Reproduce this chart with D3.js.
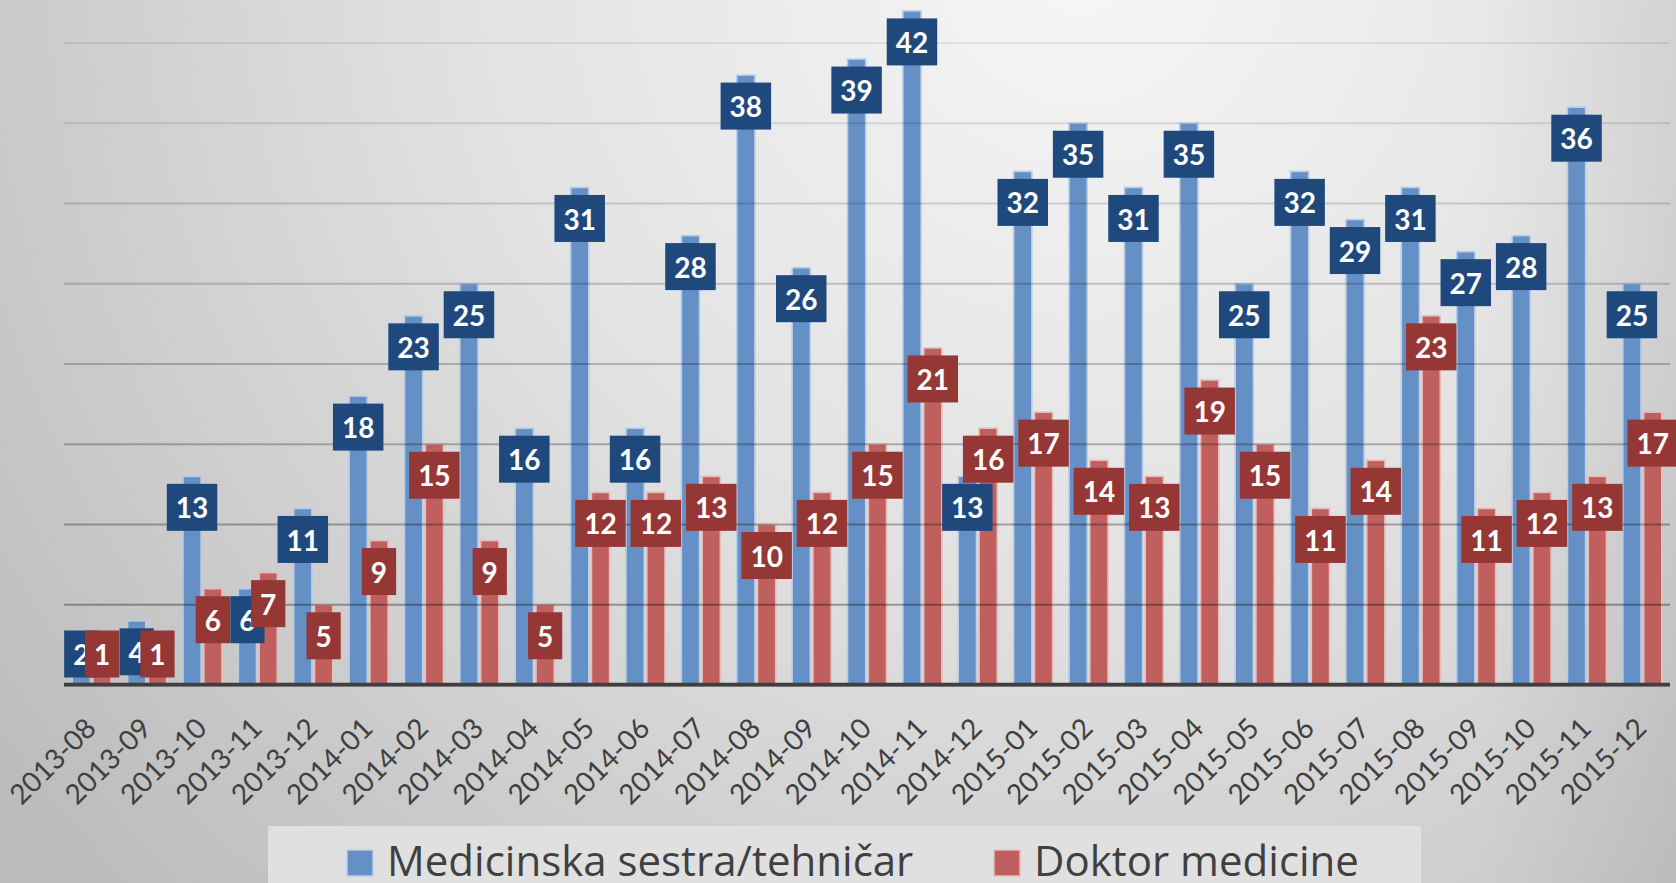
<!DOCTYPE html>
<html>
<head>
<meta charset="utf-8">
<script src="https://cdn.jsdelivr.net/npm/d3@7"></script>
<style>
  html, body { margin: 0; padding: 0; overflow: hidden; }
  svg { display: block; font-family: Lato, "Open Sans", sans-serif; }
</style>
</head>
<body>
<svg id="chart" width="1676" height="883"></svg>
<script>
// podaci po mjesecima
const months = ["2013-08","2013-09","2013-10","2013-11","2013-12",
  "2014-01","2014-02","2014-03","2014-04","2014-05","2014-06","2014-07",
  "2014-08","2014-09","2014-10","2014-11","2014-12",
  "2015-01","2015-02","2015-03","2015-04","2015-05","2015-06","2015-07",
  "2015-08","2015-09","2015-10","2015-11","2015-12"];
const sestra = [2,4,13,6,11,18,23,25,16,31,16,28,38,26,39,42,13,32,35,31,35,25,32,29,31,27,28,36,25];
const doktor = [1,1,6,7,5,9,15,9,5,12,12,13,10,12,15,21,16,17,14,13,19,15,11,14,23,11,12,13,17];
const seriesNames = ["Medicinska sestra/tehničar", "Doktor medicine"];
const gridTicks = [5,10,15,20,25,30,35,40];

const W = 1676, H = 883;
const svg = d3.select("#chart");

// pozadina
const defs = svg.append("defs");
const bg = defs.append("radialGradient").attr("id", "bg")
  .attr("gradientUnits", "userSpaceOnUse")
  .attr("cx", 1080).attr("cy", -40).attr("r", 1350);
bg.append("stop").attr("offset", 0).attr("stop-color", "#f6f6f6");
bg.append("stop").attr("offset", 0.45).attr("stop-color", "#e2e2e2");
bg.append("stop").attr("offset", 1).attr("stop-color", "#bcbcbc");
const edge = defs.append("linearGradient").attr("id", "edge");
edge.append("stop").attr("offset", 0.88).attr("stop-color", "#000").attr("stop-opacity", 0);
edge.append("stop").attr("offset", 1).attr("stop-color", "#000").attr("stop-opacity", 0.07);
svg.append("rect").attr("width", W).attr("height", H).attr("fill", "url(#bg)");
svg.append("rect").attr("width", W).attr("height", H).attr("fill", "url(#edge)");

// skale
const x0 = d3.scaleBand().domain(months).range([64, 1670])
  .paddingInner(0.26).paddingOuter(0.13);
const x1 = d3.scaleBand().domain([0, 1]).range([0, x0.bandwidth()]).paddingInner(0.03);
const y = d3.scaleLinear().domain([0, 40]).range([685, 43]);

const data = months.map((m, i) => ({ m, vals: [sestra[i], doktor[i]] }));
const fills = ["#6590c6", "#c0605e"];
const strokes = ["#b9cde6", "#e8bcbb"];
const boxFills = ["#1f497d", "#953735"];

// stupci
const groups = svg.append("g").selectAll("g").data(data).join("g")
  .attr("transform", d => `translate(${x0(d.m)},0)`);
groups.selectAll("rect").data(d => d.vals.map((v, k) => ({ v, k }))).join("rect")
  .attr("x", d => x1(d.k) + 1)
  .attr("y", d => y(d.v))
  .attr("width", x1.bandwidth() - 2)
  .attr("height", d => y(0) - y(d.v))
  .attr("fill", d => fills[d.k])
  .attr("stroke", d => strokes[d.k])
  .attr("stroke-width", 1.6);

// mreža (preko stupaca, poluprozirna)
const gridOp = d3.scaleLinear().domain([40, 5]).range([0.07, 0.33]);
svg.append("g").selectAll("line").data(gridTicks).join("line")
  .attr("x1", 64).attr("x2", 1670)
  .attr("y1", d => y(d)).attr("y2", d => y(d))
  .attr("stroke", "#000").attr("stroke-opacity", d => gridOp(d))
  .attr("stroke-width", 2);

// os x
svg.append("line").attr("x1", 64).attr("x2", 1670).attr("y1", 686).attr("y2", 686)
  .attr("stroke", "#8a8a8a").attr("stroke-width", 2);
svg.append("line").attr("x1", 64).attr("x2", 1670).attr("y1", 684.5).attr("y2", 684.5)
  .attr("stroke", "#3f3f3f").attr("stroke-width", 3.5);

svg.append("g").selectAll("text").data(months).join("text")
  .attr("transform", d => `translate(${x0(d) + x0.bandwidth() / 2 + 6},730) rotate(-45)`)
  .attr("text-anchor", "end")
  .attr("font-size", 28)
  .attr("fill", "#404040")
  .text(d => d);

// oznake vrijednosti
const labels = [];
[0, 1].forEach(k => data.forEach(d => labels.push({ m: d.m, k, v: d.vals[k] })));
const lab = svg.append("g").selectAll("g").data(labels).join("g")
  .attr("transform", d => {
    const cx = x0(d.m) + x1(d.k) + x1.bandwidth() / 2;
    const cy = Math.min(y(d.v) + 31, 654);
    return `translate(${cx},${cy})`;
  });
lab.append("rect").attr("fill", d => boxFills[d.k]);
lab.append("text")
  .attr("text-anchor", "middle")
  .attr("dy", "0.36em")
  .attr("y", 1)
  .attr("font-size", 28)
  .attr("font-weight", 700)
  .attr("fill", "#fff")
  .text(d => d.v);
lab.each(function () {
  const g = d3.select(this);
  const w = g.select("text").node().getComputedTextLength() + 18;
  g.select("rect").attr("x", -w / 2).attr("y", -23.5).attr("width", w).attr("height", 47);
});

// legenda
const leg = svg.append("g");
leg.append("rect").attr("x", 268).attr("y", 826).attr("width", 1153).attr("height", 70)
  .attr("fill", "#e0e0e0");
const legX = [347, 994];
seriesNames.forEach((name, k) => {
  leg.append("rect").attr("x", legX[k]).attr("y", 850).attr("width", 26).attr("height", 26)
    .attr("fill", fills[k]).attr("stroke", strokes[k]).attr("stroke-width", 1.5);
  leg.append("text").attr("x", legX[k] + 40).attr("y", 876)
    .attr("font-family", "'Open Sans', sans-serif")
    .attr("font-size", 42).attr("fill", "#404040").text(name);
});
</script>
</body>
</html>
